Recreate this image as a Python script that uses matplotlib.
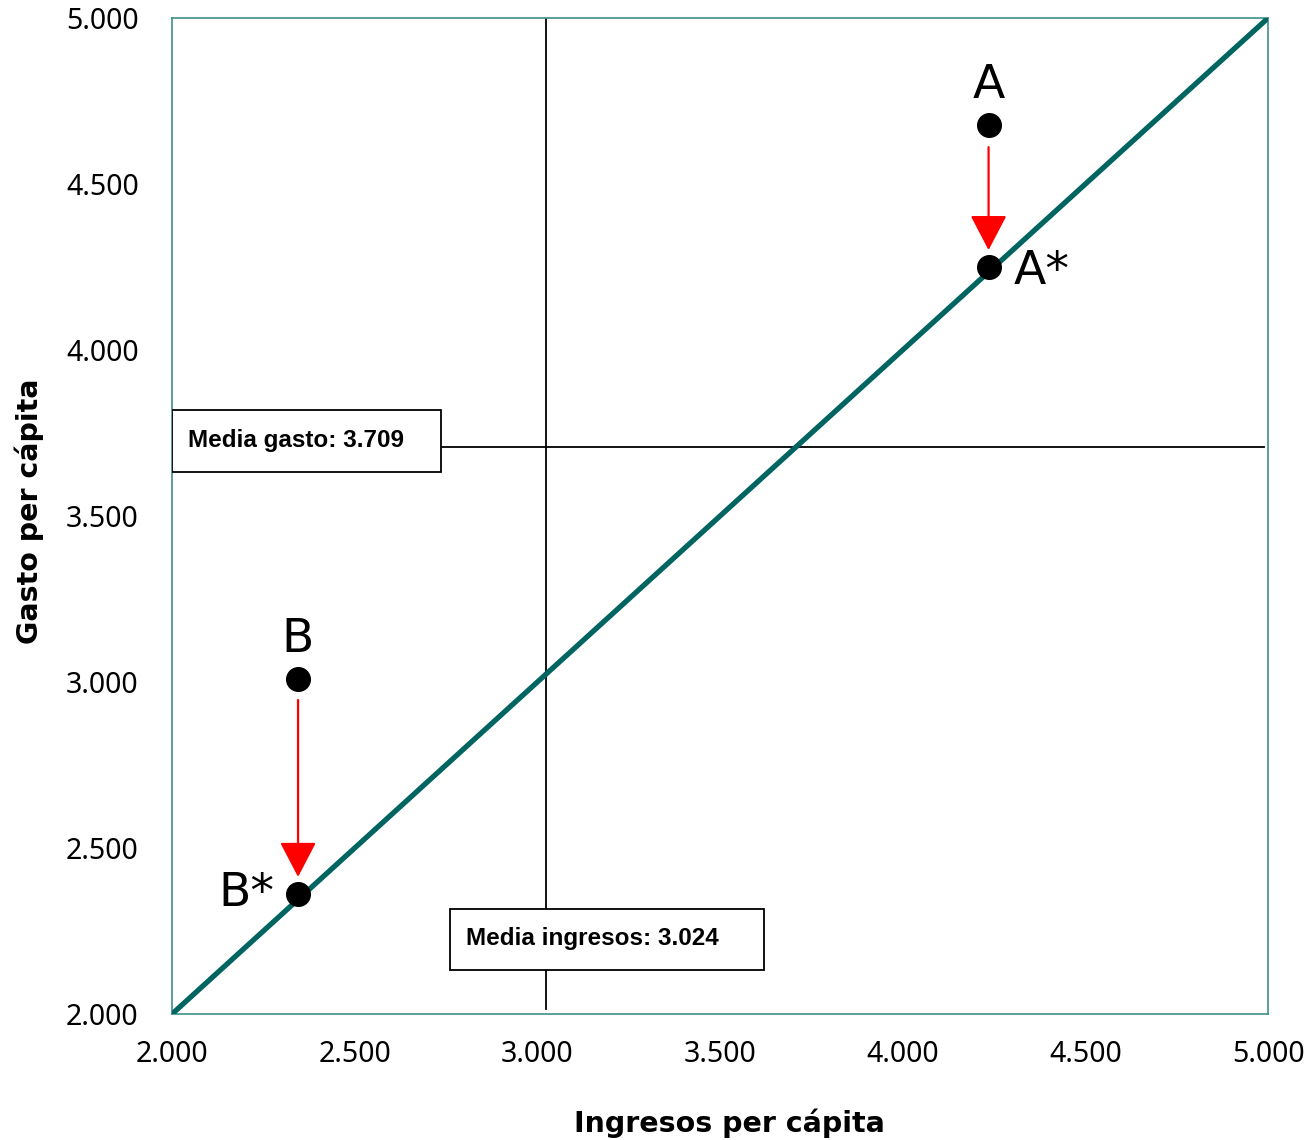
import numpy as np
import matplotlib.pyplot as plt
from matplotlib.patches import FancyArrowPatch, Rectangle

# valores
ticks = [2000, 2500, 3000, 3500, 4000, 4500, 5000]
tick_labels = ['2.000', '2.500', '3.000', '3.500', '4.000', '4.500', '5.000']
diag_x = [2000, 5000]
diag_y = [2000, 5000]
media_ingresos = 3024
media_gasto = 3709
puntos = ['A', 'A*', 'B', 'B*']
px = [4235, 4235, 2345, 2345]
py = [4678, 4250, 3009, 2362]
flechas_desde = [4611, 2946]
flechas_hasta = [4301, 2413]
flechas_x = [4235, 2345]

teal = '#006461'
marco = '#3f8f8c'

fig = plt.figure(figsize=(13.05, 11.4), dpi=100)
ax = fig.add_axes([0.1318, 0.1105, 0.8399, 0.8737])

ax.set_xlim(2000, 5000)
ax.set_ylim(2000, 5000)
for s in ax.spines.values():
    s.set_color(marco)
    s.set_linewidth(1.2)
ax.set_xticks(ticks)
ax.set_yticks(ticks)
ax.set_xticklabels(tick_labels, family='Noto Sans')
ax.set_yticklabels(tick_labels, family='Noto Sans')
ax.tick_params(length=0, labelsize=20.5)
ax.tick_params(axis='x', pad=19)
ax.tick_params(axis='y', pad=24)

# lineas de medias
ax.plot([media_ingresos, media_ingresos], [2015, 5000], color='black', lw=1.3, zorder=2)
ax.plot([2000, 4990], [media_gasto, media_gasto], color='black', lw=1.3, zorder=2)

# recta 45 grados
ax.plot(diag_x, diag_y, color=teal, lw=3.8, zorder=3, solid_capstyle='butt')

ax.plot(px, py, 'o', color='black', ms=17, zorder=4)

for x0, y0, y1 in zip(flechas_x, flechas_desde, flechas_hasta):
    arr = FancyArrowPatch((x0, y0), (x0, y1),
                          arrowstyle='-|>,head_length=22,head_width=11.5',
                          mutation_scale=1, color='red', lw=1.6,
                          shrinkA=0, shrinkB=0, zorder=5)
    ax.add_patch(arr)

offs = {'A': (0, 12, 'center', 'bottom'),
        'A*': (18, -3, 'left', 'center'),
        'B': (0, 12, 'center', 'bottom'),
        'B*': (-17, 0, 'right', 'center')}
for name, x, y in zip(puntos, px, py):
    dx, dy, ha, va = offs[name]
    ax.annotate(name, (x, y), xytext=(dx, dy), textcoords='offset points',
                ha=ha, va=va, fontsize=34, zorder=6)

# cajas de texto
ax.add_patch(Rectangle((2000, 3633), 736, 186, fc='white', ec='black', lw=1.3, zorder=7))
ax.text(2044, 3726, 'Media gasto: 3.709', fontsize=17.5, fontweight='bold',
        family='Liberation Sans', ha='left', va='center', zorder=8)
ax.add_patch(Rectangle((2761, 2133), 859, 183, fc='white', ec='black', lw=1.3, zorder=7))
ax.text(2805, 2226, 'Media ingresos: 3.024', fontsize=17.5, fontweight='bold',
        family='Liberation Sans', ha='left', va='center', zorder=8)

ax.set_xlabel('Ingresos per cápita', fontsize=20.5, fontweight='bold')
ax.set_ylabel('Gasto per cápita', fontsize=20.5, fontweight='bold')
ax.xaxis.set_label_coords(0.509, -0.095)
ax.yaxis.set_label_coords(-0.117, 0.505)

fig.savefig('out.png', dpi=100)
